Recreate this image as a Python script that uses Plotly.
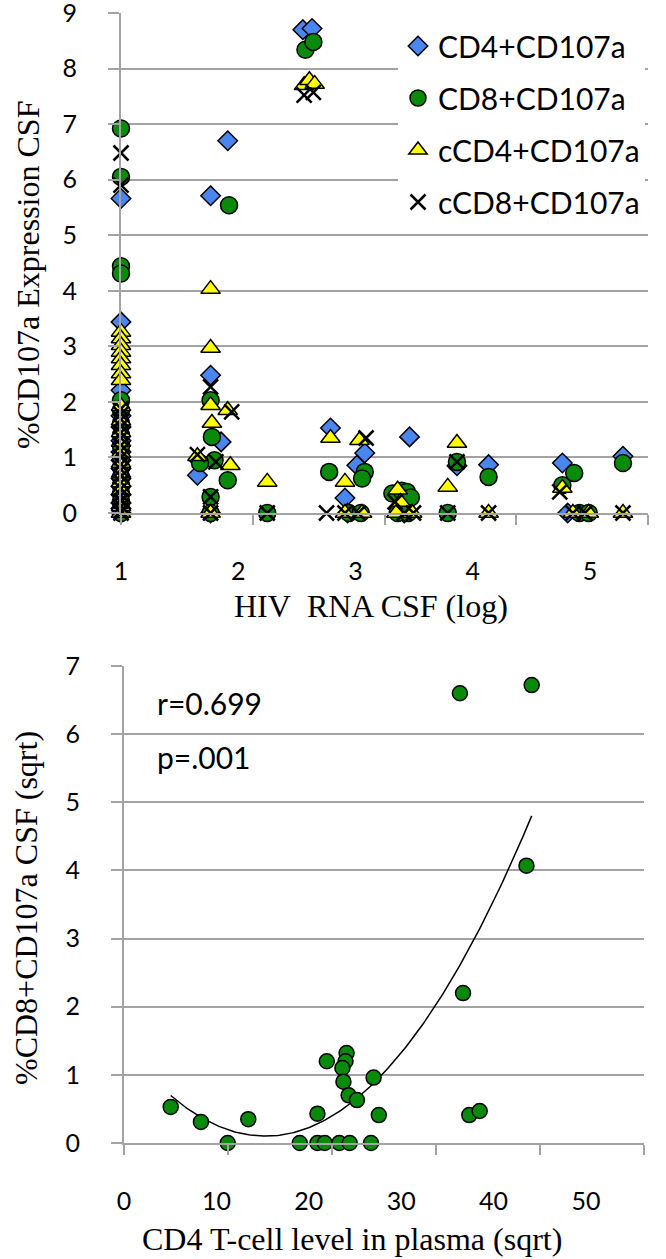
import numpy as np
import plotly.graph_objects as go

W, H = 666, 1259

# ---------------- Top chart data (HIV RNA CSF log vs %CD107a) ----------------
cd4_x = [1, 1, 1, 1, 1, 1, 1, 1, 1, 1, 1, 1, 1, 1, 1,
         1.68, 1.81, 1.68, 1.76, 1.58, 1.68,
         2.38, 2.45,
         2.59, 2.70, 2.85, 2.79, 2.72,
         3.12, 3.19, 3.15,
         3.55, 3.79, 4.35, 4.39, 4.81]
cd4_y = [5.66, 3.44, 2.21, 1.75, 1.55, 1.30, 1.10, 0.95, 0.80, 0.62, 0.48, 0.33, 0.18, 0.08, 0.0,
         5.71, 6.70, 2.48, 1.28, 0.68, 0.0,
         8.70, 8.72,
         1.53, 0.27, 1.08, 0.86, 0.0,
         0.30, 1.37, 0.0,
         0.85, 0.87, 0.90, 0.0, 1.02]

cd8_x = [1, 1, 1, 1, 1, 1, 1, 1, 1, 1, 1, 1, 1, 1, 1, 1, 1,
         1.82, 1.68, 1.69, 1.71, 1.60, 1.81, 1.68, 1.68,
         2.11,
         2.40, 2.46,
         2.58, 2.85, 2.83, 2.73, 2.82,
         3.06, 3.13, 3.17, 3.20, 3.10, 3.18,
         3.48, 3.55, 3.79, 4.35, 4.44, 4.48, 4.55, 4.81]
cd8_y = [6.92, 6.05, 4.44, 4.31, 2.03, 1.85, 1.62, 1.40, 1.20, 1.00, 0.82, 0.65, 0.50, 0.36, 0.22, 0.10, 0.0,
         5.54, 2.03, 1.37, 0.95, 0.90, 0.59, 0.29, 0.0,
         0.0,
         8.34, 8.48,
         0.74, 0.74, 0.62, 0.0, 0.0,
         0.35, 0.40, 0.38, 0.28, 0.0, 0.0,
         0.0, 0.92, 0.65, 0.50, 0.72, 0.0, 0.0, 0.90]

ccd4_x = [1, 1, 1, 1, 1, 1, 1, 1, 1, 1, 1, 1, 1, 1, 1, 1, 1, 1, 1, 1,
          1.68, 1.68, 1.68, 1.81, 1.69, 1.58, 1.83, 1.68,
          2.11,
          2.39, 2.43, 2.47,
          2.59, 2.81, 2.70, 2.70, 2.83,
          3.10, 3.12, 3.09, 3.21,
          3.48, 3.55, 3.79, 4.35, 4.43, 4.55, 4.81]
ccd4_y = [3.26, 3.14, 3.02, 2.90, 2.78, 2.66, 2.51, 2.39, 1.92, 1.66, 1.45, 1.28, 1.08, 0.90, 0.72, 0.55, 0.40, 0.25, 0.12, 0.0,
          4.03, 2.97, 1.94, 1.85, 1.62, 1.02, 0.86, 0.0,
          0.56,
          7.70, 7.79, 7.72,
          1.35, 1.31, 0.56, 0.0, 0.0,
          0.42, 0.20, 0.0, 0.0,
          0.47, 1.26, 0.0, 0.45, 0.0, 0.0, 0.0]

ccd8_x = [1, 1, 1, 1, 1, 1, 1, 1, 1, 1, 1, 1, 1, 1, 1, 1, 1, 1, 1, 1, 1,
          1.68, 1.84, 1.58, 1.72, 1.68, 1.68,
          2.11,
          2.39, 2.46,
          2.56, 2.86, 2.70, 2.80,
          3.08, 3.15, 3.22,
          3.48, 3.55, 3.79, 4.33, 4.43, 4.52, 4.81]
ccd8_y = [6.48, 5.90, 1.88, 1.78, 1.68, 1.56, 1.45, 1.35, 1.22, 1.12, 1.00, 0.88, 0.78, 0.66, 0.55, 0.44, 0.32, 0.22, 0.12, 0.04, 0.0,
          2.27, 1.82, 1.05, 0.92, 0.29, 0.0,
          0.0,
          7.52, 7.57,
          0.0, 1.35, 0.0, 0.0,
          0.20, 0.0, 0.0,
          0.0, 0.92, 0.0, 0.38, 0.0, 0.0, 0.0]

top_tick_vals = [1, 2, 3, 4, 5]
top_tick_text = ["1", "2", "3", "4", "5"]

# ---------------- Bottom chart data (CD4 sqrt vs CD8+CD107a sqrt) ----------------
cd4_sqrt = [4.49, 7.40, 9.97, 11.95, 16.9, 18.6, 18.6, 19.3, 19.5, 20.7, 21.7, 21.4, 21.3,
            21.0, 21.1, 21.6, 22.4, 24.0, 23.75, 24.5, 32.6, 33.2, 34.2, 32.3, 39.2, 38.7]
cd8_sqrt = [0.53, 0.31, 0.0, 0.35, 0.0, 0.43, 0.0, 0.0, 1.20, 0.0, 0.0, 1.32, 1.20,
            1.10, 0.90, 0.70, 0.63, 0.96, 0.0, 0.41, 2.20, 0.41, 0.47, 6.60, 6.72, 4.07]

bot_tick_vals = [0, 10, 20, 30, 40, 50]
bot_tick_text = ["0", "10", "20", "30", "40", "50"]

BLUE = "#4A86F0"
GREEN = "#0A8A0A"
YELLOW = "#FFFF00"
GRID = "#A3A3A3"
SANS = "Lato"
SERIF = "Liberation Serif"


def fx(p):
    return p / W


def fy(p):
    return 1 - p / H


fig = go.Figure()

common = dict(mode="markers", xaxis="x", yaxis="y", cliponaxis=False, hoverinfo="skip")
fig.add_trace(go.Scatter(x=cd4_x, y=cd4_y, name="CD4+CD107a", legendgroup="a",
                         marker=dict(symbol="diamond", size=15, color=BLUE,
                                     line=dict(color="black", width=1.5)), **common))
fig.add_trace(go.Scatter(x=cd8_x, y=cd8_y, name="CD8+CD107a", legendgroup="b",
                         marker=dict(symbol="circle", size=17, color=GREEN,
                                     line=dict(color="black", width=1.5)), **common))
fig.add_trace(go.Scatter(x=ccd4_x, y=ccd4_y, name="cCD4+CD107a", legendgroup="c",
                         marker=dict(symbol="triangle-up", size=17, color=YELLOW,
                                     line=dict(color="black", width=1.5)), **common))
fig.add_trace(go.Scatter(x=ccd8_x, y=ccd8_y, name="cCD8+CD107a", legendgroup="d",
                         marker=dict(symbol="x-thin", size=15, color="black",
                                     line=dict(color="black", width=2.5)), **common))
# label axis carrier (no marks)
fig.add_trace(go.Scatter(x=[None], y=[None], xaxis="x3", yaxis="y", showlegend=False, hoverinfo="skip"))

# bottom
coef = np.polyfit(cd4_sqrt, cd8_sqrt, 2)
xs = np.linspace(min(cd4_sqrt), max(cd4_sqrt), 200)
fig.add_trace(go.Scatter(x=xs, y=np.polyval(coef, xs), mode="lines", xaxis="x2", yaxis="y2",
                         line=dict(color="black", width=1.5), showlegend=False, hoverinfo="skip"))
fig.add_trace(go.Scatter(x=cd4_sqrt, y=cd8_sqrt, mode="markers", xaxis="x2", yaxis="y2",
                         marker=dict(symbol="circle", size=15, color=GREEN,
                                     line=dict(color="black", width=1.5)),
                         cliponaxis=False, showlegend=False, hoverinfo="skip"))
fig.add_trace(go.Scatter(x=[None], y=[None], xaxis="x4", yaxis="y2", showlegend=False, hoverinfo="skip"))

tickfont = dict(family=SANS, size=25, color="black")

fig.update_layout(
    width=W, height=H, autosize=False,
    margin=dict(l=0, r=0, t=0, b=0, autoexpand=False),
    paper_bgcolor="white", plot_bgcolor="white",
    showlegend=True,
    legend=dict(x=fx(398), y=fy(20), xanchor="left", yanchor="top",
                bgcolor="white", font=dict(family=SANS, size=30, color="black"),
                tracegroupgap=10, itemclick=False),
    xaxis=dict(domain=[fx(121), fx(648)], range=[1, 5], anchor="y", automargin=False,
               showgrid=False, zeroline=False, showline=True, linecolor=GRID, linewidth=2,
               ticks="outside", tickvals=top_tick_vals, ticklen=10, tickwidth=2, tickcolor=GRID,
               showticklabels=False),
    xaxis3=dict(overlaying="x", anchor="y", range=[1, 1 + 527 / 117.25], automargin=False,
                showgrid=False, zeroline=False, showline=False, ticks="",
                tickvals=top_tick_vals, ticktext=top_tick_text, tickfont=tickfont,
                ticklabelstandoff=41, ticklabeloverflow="allow"),
    yaxis=dict(domain=[fy(513), fy(13)], range=[0, 9.0001], anchor="x",
               tickvals=list(range(10)), automargin=False,
               showgrid=True, gridcolor=GRID, gridwidth=2, zeroline=False,
               showline=True, linecolor=GRID, linewidth=2,
               ticks="outside", ticklen=11, tickwidth=2, tickcolor=GRID,
               tickfont=tickfont, ticklabelstandoff=26, ticklabeloverflow="allow"),
    xaxis2=dict(domain=[fx(124), fx(644)], range=[0, 50], anchor="y2", automargin=False,
                showgrid=False, zeroline=False, showline=True, linecolor=GRID, linewidth=2,
                ticks="outside", tickvals=bot_tick_vals, ticklen=10, tickwidth=2, tickcolor=GRID,
                showticklabels=False),
    xaxis4=dict(overlaying="x2", anchor="y2", range=[0, 520 / 9.24], automargin=False,
                showgrid=False, zeroline=False, showline=False, ticks="",
                tickvals=bot_tick_vals, ticktext=bot_tick_text, tickfont=tickfont,
                ticklabelstandoff=41, ticklabeloverflow="allow"),
    yaxis2=dict(domain=[fy(1143), fy(666)], range=[0, 7.0001], anchor="x2",
                tickvals=list(range(8)), automargin=False,
                showgrid=True, gridcolor=GRID, gridwidth=2, zeroline=False,
                showline=True, linecolor=GRID, linewidth=2,
                ticks="outside", ticklen=11, tickwidth=2, tickcolor=GRID,
                tickfont=tickfont, ticklabelstandoff=26, ticklabeloverflow="allow"),
)

serif = dict(family=SERIF, size=32, color="black")
ann = [
    dict(text="HIV\u00a0 RNA CSF (log)", x=fx(232), y=fy(606), xanchor="left", yanchor="middle",
         font=serif),
    dict(text="%CD107a Expression CSF", x=fx(28), y=fy(275), xanchor="center", yanchor="middle",
         textangle=-90, font=serif),
    dict(text="CD4 T-cell level in plasma (sqrt)", x=fx(140), y=fy(1239), xanchor="left",
         yanchor="middle", font=serif),
    dict(text="%CD8+CD107a CSF (sqrt)", x=fx(26), y=fy(908), xanchor="center", yanchor="middle",
         textangle=-90, font=serif),
    dict(text="r=0.699", x=fx(155), y=fy(703), xanchor="left", yanchor="middle",
         font=dict(family=SANS, size=30, color="black")),
    dict(text="p=.001", x=fx(155), y=fy(757), xanchor="left", yanchor="middle",
         font=dict(family=SANS, size=30, color="black")),
]
for a in ann:
    a.update(xref="paper", yref="paper", showarrow=False)
fig.update_layout(annotations=ann)

fig.write_html("out.html", config={"displayModeBar": False},
               post_script="document.body.style.margin='0px';document.body.style.padding='0px';")
